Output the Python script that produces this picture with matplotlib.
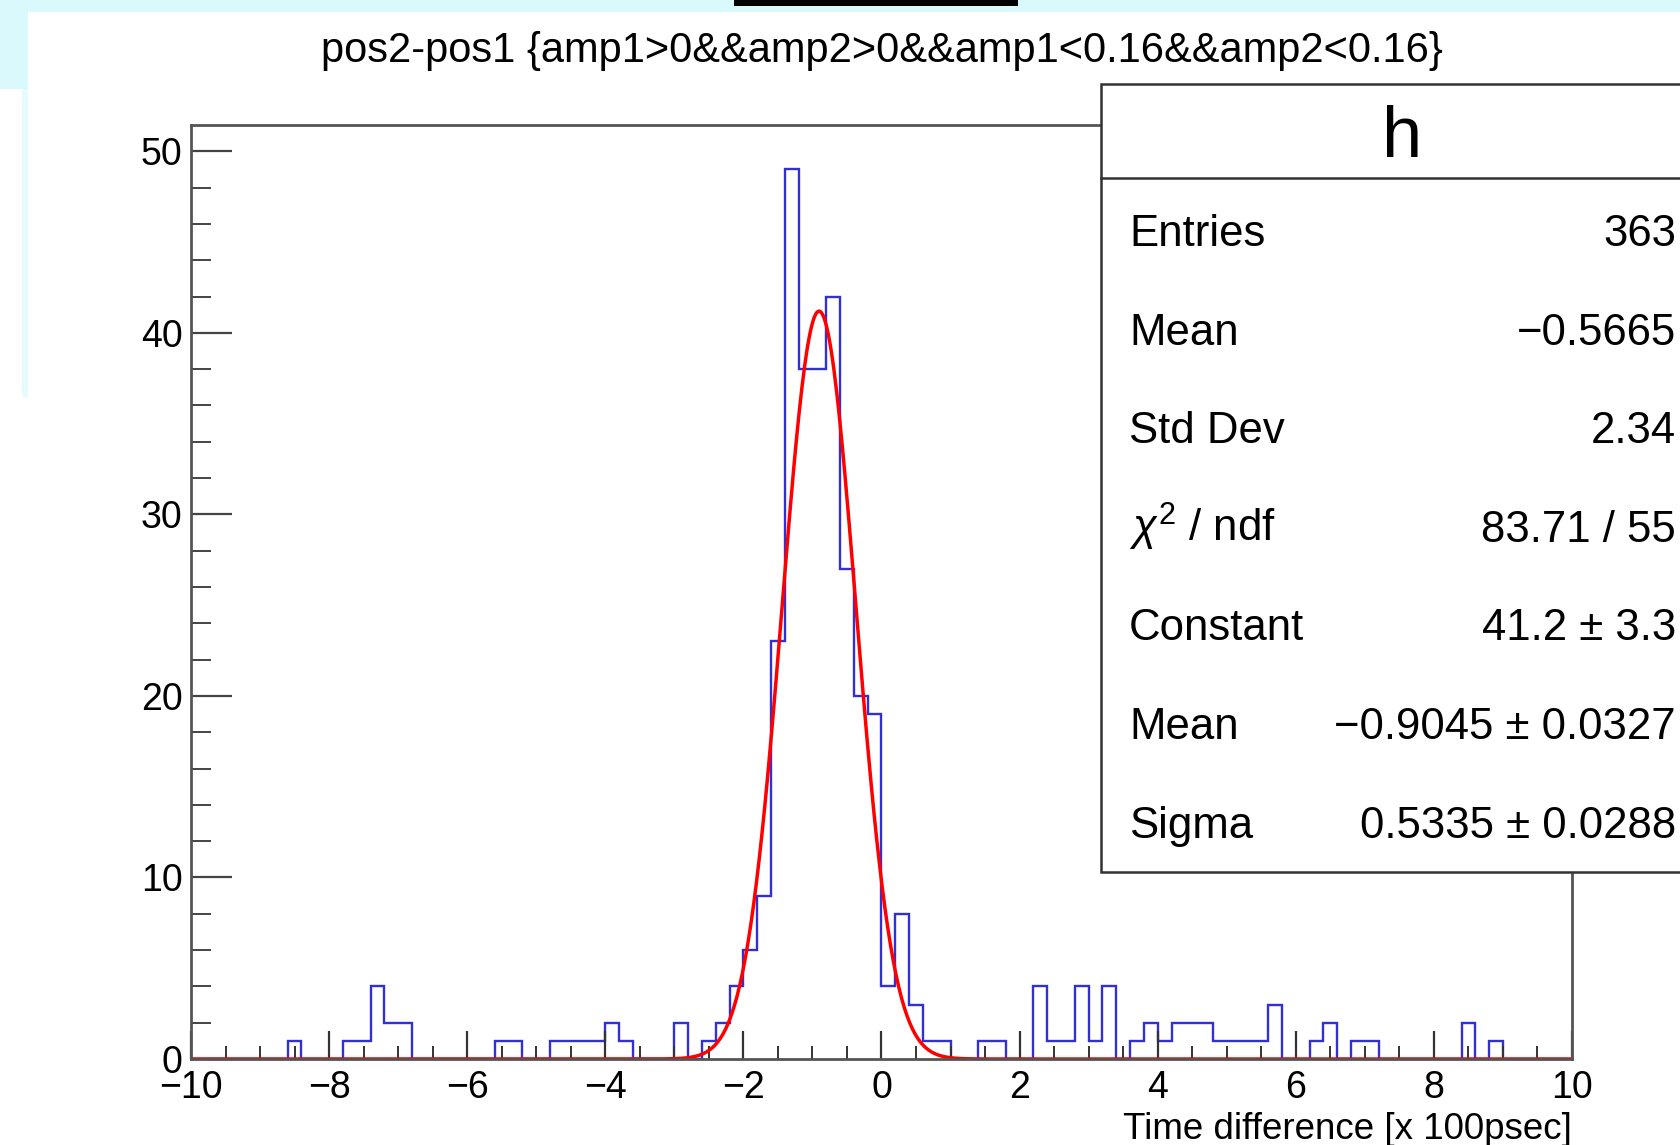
import numpy as np
import matplotlib.pyplot as plt
from matplotlib.patches import Rectangle
from matplotlib.lines import Line2D
from matplotlib.ticker import MultipleLocator

plt.rcParams['font.family'] = ['Liberation Sans', 'DejaVu Sans']
plt.rcParams['mathtext.fontset'] = 'custom'
plt.rcParams['mathtext.rm'] = 'Liberation Sans'
plt.rcParams['mathtext.it'] = 'Liberation Sans:italic'

# histogram "h": 100 bins from -10 to 10 (bin width 0.2)
x_lo, x_hi, n_bins = -10.0, 10.0, 100
counts = [
    0, 0, 0, 0, 0, 0, 0, 1, 0, 0,          # -10 .. -8
    0, 1, 1, 4, 2, 2, 0, 0, 0, 0,          # -8 .. -6
    0, 0, 1, 1, 0, 0, 1, 1, 1, 1,          # -6 .. -4
    2, 1, 0, 0, 0, 2, 0, 1, 2, 4,          # -4 .. -2
    6, 9, 23, 49, 38, 38, 42, 27, 20, 19,  # -2 .. 0
    4, 8, 3, 1, 1, 0, 0, 1, 1, 0,          # 0 .. 2
    0, 4, 1, 1, 4, 1, 4, 0, 1, 2,          # 2 .. 4
    1, 2, 2, 2, 1, 1, 1, 1, 3, 0,          # 4 .. 6
    0, 1, 2, 0, 1, 1, 0, 0, 0, 0,          # 6 .. 8
    0, 0, 2, 0, 1, 0, 0, 0, 0, 0,          # 8 .. 10
]

# gaus fit result
fit_const = 41.2
fit_mean = -0.9045
fit_sigma = 0.5335

title = "pos2-pos1 {amp1>0&&amp2>0&&amp1<0.16&&amp2<0.16}"
xlabel = "Time difference [x 100psec]"
stats_name = "h"
stats_labels = ["Entries", "Mean", "Std Dev", r"$\chi^{2}$ / ndf", "Constant", "Mean", "Sigma"]
stats_values = ["363", "−0.5665", "2.34", "83.71 / 55", "41.2 ± 3.3",
                "−0.9045 ± 0.0327", "0.5335 ± 0.0288"]

W, H = 1681, 1145


def fx(x):
    return x / W


def fy(y):
    # y measured from top in pixels
    return 1 - y / H


fig = plt.figure(figsize=(W / 100, H / 100), dpi=100)
fig.patch.set_facecolor('white')

# light cyan window background pieces
cyan = '#daf9fd'
fig.add_artist(Rectangle((0, fy(12)), 1, 12 / H, transform=fig.transFigure, color=cyan, lw=0))
fig.add_artist(Rectangle((0, fy(89)), fx(28), 89 / H, transform=fig.transFigure, color=cyan, lw=0))
fig.add_artist(Rectangle((fx(22), fy(397)), fx(6), (397 - 89) / H, transform=fig.transFigure,
                         color='#e6fbfe', lw=0))
fig.add_artist(Rectangle((fx(734), fy(6)), fx(284), 6 / H, transform=fig.transFigure, color='black', lw=0))

ax = fig.add_axes([fx(191), fy(1059), fx(1572 - 191), (1059 - 125) / H])

edges = np.linspace(x_lo, x_hi, n_bins + 1)
ax.stairs(counts, edges, color='#3030d4', lw=1.7)

xf = np.linspace(x_lo, x_hi, 1000)
yf = fit_const * np.exp(-0.5 * ((xf - fit_mean) / fit_sigma) ** 2)
ax.plot(xf, yf, color='#ff0000', lw=2.5)

ax.set_xlim(x_lo, x_hi)
ax.set_ylim(0, 1.05 * max(counts))

ax.xaxis.set_major_locator(MultipleLocator(2))
ax.xaxis.set_minor_locator(MultipleLocator(0.5))
ax.yaxis.set_major_locator(MultipleLocator(10))
ax.yaxis.set_minor_locator(MultipleLocator(2))

for s in ax.spines.values():
    s.set_color('#555555')
    s.set_linewidth(2.0)

ax.tick_params(axis='x', which='major', direction='in', length=20, width=1.6, color='#333333',
               labelsize=27, pad=8, top=False)
ax.tick_params(axis='x', which='minor', direction='in', length=9.5, width=1.4, color='#333333', top=False)
ax.tick_params(axis='y', which='major', direction='in', length=29.5, width=1.6, color='#444444',
               labelsize=27, pad=6, right=False)
ax.tick_params(axis='y', which='minor', direction='in', length=14.5, width=1.4, color='#444444', right=False)

ax.set_xlabel(xlabel, loc='right', fontsize=26.5, labelpad=4)

fig.text(fx(882), fy(51), title, ha='center', va='center', fontsize=30)

# stats box
box_l, box_t, box_r, box_b = 1101, 84, 1703, 872
fig.add_artist(Rectangle((fx(box_l), fy(box_b)), fx(box_r - box_l), (box_b - box_t) / H,
                         transform=fig.transFigure, facecolor='white', edgecolor='#333333', lw=1.8))
fig.add_artist(Line2D([fx(box_l), fx(box_r)], [fy(178), fy(178)], transform=fig.transFigure,
                      color='#333333', lw=1.8))
fig.text(fx(1402), fy(157), stats_name, ha='center', va='baseline', fontsize=52)

row0, row_step = 246, 98.6
for i, (lab, val) in enumerate(zip(stats_labels, stats_values)):
    yb = row0 + i * row_step
    fig.text(fx(1129), fy(yb), lab, ha='left', va='baseline', fontsize=31.5)
    fig.text(fx(1676), fy(yb), val, ha='right', va='baseline', fontsize=31.5)

fig.savefig('out.png', dpi=100)
